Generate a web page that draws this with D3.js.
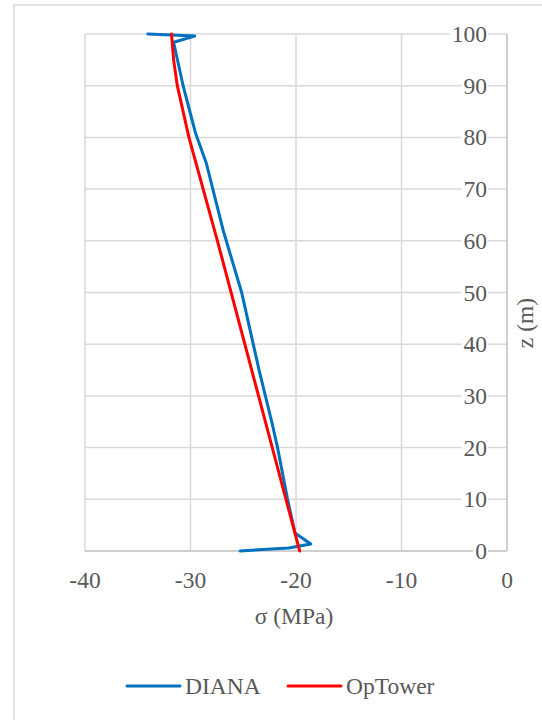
<!DOCTYPE html>
<html>
<head>
<meta charset="utf-8">
<script src="https://cdn.jsdelivr.net/npm/d3@7"></script>
<style>
  html, body { margin: 0; padding: 0; background: #fff; }
  svg { display: block; }
</style>
</head>
<body>
<script>
// Stress along the tower height: σ (MPa) against z (m)
const dianaSigma = [-25.3, -20.7, -18.6, -20.1, -20.8, -21.75, -22.3, -23.5, -24.6, -25.15, -26.9, -28.5, -29.55, -30.7, -31.6, -29.6, -34.05];
const dianaZ     = [0,     0.6,   1.35,  3.5,   10,    20,     25,    35,    45,    50,     62,    75,    81,     90,    98.4,  99.6,  100];

const opTowerSigma = [-19.65, -20.95, -22.25, -23.55, -24.85, -26.15, -27.45, -28.8, -30.15, -31.25, -31.6, -31.8];
const opTowerZ     = [0,      10,     20,     30,     40,     50,     60,     70,    80,     90,     95,    100];

const xTicks = [-40, -30, -20, -10, 0];
const yTicks = [0, 10, 20, 30, 40, 50, 60, 70, 80, 90, 100];

const seriesNames = ["DIANA", "OpTower"];
const seriesColors = ["#0070C0", "#FF0000"];

const W = 542, H = 720;
const font = "'Liberation Serif', 'Times New Roman', serif";
const fontSize = 23.5;
const textColor = "#595959";

const svg = d3.select("body").append("svg").attr("width", W).attr("height", H);

// chart frame
svg.append("rect")
  .attr("x", 14).attr("y", 5).attr("width", 600).attr("height", 800)
  .attr("fill", "#fff").attr("stroke", "#d9d9d9").attr("stroke-width", 1.5);

const x = d3.scaleLinear().domain([-40, 0]).range([85, 507]);
const y = d3.scaleLinear().domain([0, 100]).range([551, 34]);

// gridlines
const grid = svg.append("g");
grid.selectAll(".gx").data(xTicks.filter(d => d !== 0)).join("line")
  .attr("x1", d => x(d)).attr("x2", d => x(d))
  .attr("y1", y(100)).attr("y2", y(0))
  .attr("stroke", "#d9d9d9").attr("stroke-width", 1.5);
grid.selectAll(".gy").data(yTicks.filter(d => d !== 0)).join("line")
  .attr("x1", x(-40)).attr("x2", x(0))
  .attr("y1", d => y(d)).attr("y2", d => y(d))
  .attr("stroke", "#d9d9d9").attr("stroke-width", 1.5);

// axis lines (σ = 0 and z = 0)
svg.append("line")
  .attr("x1", x(0)).attr("x2", x(0)).attr("y1", y(100)).attr("y2", y(0))
  .attr("stroke", "#bfbfbf").attr("stroke-width", 1.5);
svg.append("line")
  .attr("x1", x(-40)).attr("x2", x(0)).attr("y1", y(0)).attr("y2", y(0))
  .attr("stroke", "#bfbfbf").attr("stroke-width", 1.5);

// x tick labels
svg.append("g").selectAll("text").data(xTicks).join("text")
  .attr("x", d => x(d)).attr("y", 588)
  .attr("text-anchor", "middle")
  .attr("font-family", font).attr("font-size", fontSize).attr("fill", textColor)
  .text(d => d);

// y tick labels, set inside the plot next to the σ = 0 axis, on a white ground
const yl = svg.append("g").selectAll("g").data(yTicks).join("g");
yl.each(function(d) {
  const g = d3.select(this);
  const t = g.append("text")
    .attr("x", 487).attr("y", y(d) + 8)
    .attr("text-anchor", "end")
    .attr("font-family", font).attr("font-size", fontSize).attr("fill", textColor)
    .text(d);
  const b = t.node().getBBox();
  g.insert("rect", "text")
    .attr("x", b.x - 2).attr("y", y(d) - 3).attr("width", b.width + 3).attr("height", 6)
    .attr("fill", "#fff");
});

// axis titles
svg.append("text")
  .attr("x", 294).attr("y", 624)
  .attr("text-anchor", "middle")
  .attr("font-family", font).attr("font-size", fontSize).attr("fill", textColor)
  .text("σ (MPa)");
svg.append("text")
  .attr("transform", "translate(533,323) rotate(-90)")
  .attr("text-anchor", "middle")
  .attr("font-family", font).attr("font-size", fontSize).attr("fill", textColor)
  .text("z (m)");

// series
const line = d3.line().x(d => x(d[0])).y(d => y(d[1]));
const series = [
  d3.zip(dianaSigma, dianaZ),
  d3.zip(opTowerSigma, opTowerZ)
];
svg.append("g").selectAll("path").data(series).join("path")
  .attr("d", line)
  .attr("fill", "none")
  .attr("stroke", (d, i) => seriesColors[i])
  .attr("stroke-width", 3)
  .attr("stroke-linejoin", "round")
  .attr("stroke-linecap", "round");

// legend
const legendX = [127, 288];
const lg = svg.append("g").selectAll("g").data(seriesNames).join("g")
  .attr("transform", (d, i) => `translate(${legendX[i]},686)`);
lg.append("line")
  .attr("x1", 0).attr("x2", 53).attr("y1", 0).attr("y2", 0)
  .attr("stroke", (d, i) => seriesColors[i]).attr("stroke-width", 3)
  .attr("stroke-linecap", "round");
lg.append("text")
  .attr("x", 58).attr("y", 8)
  .attr("font-family", font).attr("font-size", fontSize).attr("fill", textColor)
  .text(d => d);
</script>
</body>
</html>
